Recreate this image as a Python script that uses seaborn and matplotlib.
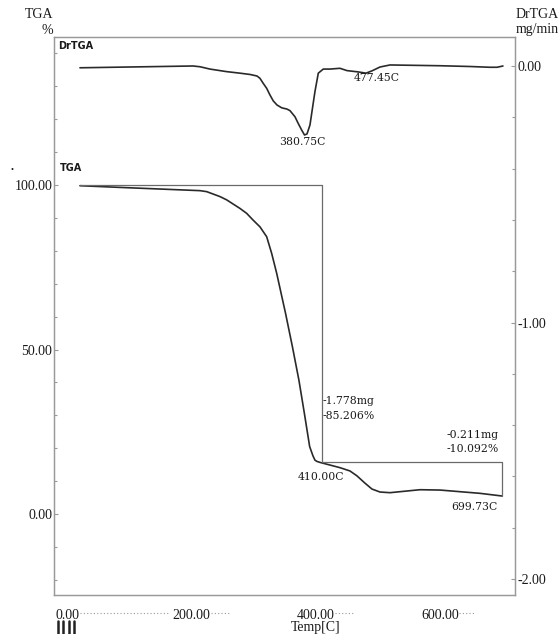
import matplotlib
matplotlib.use("Agg")
import matplotlib.pyplot as plt
from matplotlib.lines import Line2D
from matplotlib.ticker import MultipleLocator, FixedLocator
import seaborn as sns

# ---------------- data ----------------
tga_temp = [20.6, 96.2, 213.7, 224.5, 245.9, 256.7, 278.1, 288.9, 299.0, 310.3,
            321.1, 329.2, 337.2, 351.5, 362.5, 373.0, 381.8, 390.3, 395.6,
            398.8, 402.0, 406.9, 423.0, 439.1, 455.2, 466.5, 479.3, 490.6, 503.5,
            519.6, 535.7, 567.9, 600.1, 632.3, 664.5, 699.4]
tga_pct = [99.8, 99.2, 98.3, 98.0, 96.5, 95.5, 92.9, 91.4, 89.4, 87.3,
           84.3, 79.2, 73.2, 61.0, 50.9, 40.7, 30.6, 20.5, 17.7,
           16.4, 16.0, 15.7, 14.9, 14.1, 13.1, 11.6, 9.4, 7.6, 6.7,
           6.5, 6.8, 7.4, 7.3, 6.8, 6.3, 5.5]

dtg_temp = [20.6, 202.6, 213.9, 229.8, 256.7, 278.1, 294.2, 305.5, 310.3, 315.1,
            321.1, 326.4, 331.7, 337.7, 345.3, 353.8, 358.6, 366.7, 371.5, 377.5,
            382.0, 386.0, 390.8, 395.6, 398.8, 404.2, 412.2, 423.0, 439.1, 450.4,
            468.1, 481.0, 490.6, 503.5, 519.6, 600.1, 648.4, 680.5, 691.8, 701.4]
dtg_val = [-0.007, 0.000, -0.003, -0.012, -0.022, -0.028, -0.033, -0.039, -0.048, -0.066,
           -0.087, -0.113, -0.136, -0.152, -0.163, -0.168, -0.174, -0.198, -0.222, -0.250,
           -0.269, -0.265, -0.230, -0.152, -0.100, -0.028, -0.012, -0.012, -0.009, -0.018,
           -0.023, -0.028, -0.019, -0.004, 0.004, 0.001, -0.002, -0.005, -0.005, 0.000]

# step analysis (TGA)
step_start, step_mid, step_end = 20.6, 410.0, 699.73
step_top, step_mid_level, step_end_level = 100.0, 15.7, 5.5

x_ticks = [0, 200, 400, 600]
x_tick_labels = ["0.00", "200.00", "400.00", "600.00"]
left_ticks = [0, 50, 100]
left_tick_labels = ["0.00", "50.00", "100.00"]
right_ticks = [0.0, -1.0, -2.0]
right_tick_labels = ["0.00", "-1.00", "-2.00"]

# ---------------- style ----------------
sns.set_style("white")
plt.rcParams['font.family'] = ['Liberation Serif', 'DejaVu Serif']

W, H = 558, 634
fig = plt.figure(figsize=(W / 100, H / 100), dpi=100)

def fx(x):
    return x / W

def fy(y):
    return 1 - y / H

ax = fig.add_axes([fx(53.5), fy(595), fx(514.5) - fx(53.5), fy(37) - fy(595)])
ax2 = ax.twinx()

curve_col = "#2a2a2a"
box_col = "#6a6a6a"
spine_col = "#9a9a9a"
text_col = "#1a1a1a"

sns.lineplot(x=tga_temp, y=tga_pct, ax=ax, color=curve_col, linewidth=1.2,
             sort=False, estimator=None)
sns.lineplot(x=dtg_temp, y=dtg_val, ax=ax2, color=curve_col, linewidth=1.2,
             sort=False, estimator=None)

# step box lines
ax.plot([step_start, step_mid, step_mid], [step_top, step_top, step_mid_level],
        color=box_col, linewidth=0.9)
ax.plot([step_mid, step_end, step_end], [step_mid_level, step_mid_level, step_end_level],
        color=box_col, linewidth=0.9)

ax.set_xlim(-22, 720)
ax.set_ylim(-24.6, 145.0)
ax2.set_ylim(-2.062, 0.113)

for a in (ax, ax2):
    for s in a.spines.values():
        s.set_color(spine_col)
        s.set_linewidth(0.9)
        s.set_visible(True)

ax.xaxis.set_major_locator(FixedLocator(x_ticks))
ax.set_xticklabels(x_tick_labels)
ax.xaxis.set_minor_locator(MultipleLocator(50))
ax.yaxis.set_major_locator(FixedLocator(left_ticks))
ax.set_yticklabels(left_tick_labels)
ax.yaxis.set_minor_locator(MultipleLocator(10))
ax2.yaxis.set_major_locator(FixedLocator(right_ticks))
ax2.set_yticklabels(right_tick_labels)
ax2.yaxis.set_minor_locator(MultipleLocator(0.2))

ax.tick_params(axis='x', which='major', direction='in', length=5, width=0.8,
               color=spine_col, pad=10, labelsize=10, labelcolor=text_col)
ax.tick_params(axis='x', which='minor', direction='in', length=3, width=0.8,
               color=spine_col)
ax.tick_params(axis='y', which='major', direction='in', length=3, width=0.8,
               color=spine_col, pad=1, labelsize=10, labelcolor=text_col)
ax.tick_params(axis='y', which='minor', direction='in', length=2, width=0.8,
               color=spine_col)
ax2.tick_params(axis='y', which='major', direction='in', length=3, width=0.8,
                color=spine_col, pad=2, labelsize=10, labelcolor=text_col)
ax2.tick_params(axis='y', which='minor', direction='in', length=2, width=0.8,
                color=spine_col)
ax.set_xlabel("")
ax.set_ylabel("")
ax2.set_ylabel("")

# axis titles
fig.text(fx(316), fy(627), "Temp[C]", ha='center', va='center', fontsize=10, color=text_col)
fig.text(fx(53), fy(15), "TGA", ha='right', va='center', fontsize=10, color=text_col)
fig.text(fx(53), fy(30), "%", ha='right', va='center', fontsize=10, color=text_col)
fig.text(fx(516), fy(14), "DrTGA", ha='left', va='center', fontsize=10, color=text_col)
fig.text(fx(516), fy(29), "mg/min", ha='left', va='center', fontsize=10, color=text_col)

# inner labels
lab_kw = dict(fontsize=7, color=text_col, family='DejaVu Sans', fontweight='bold')
ax.text(-14.5, 142.3, "DrTGA", ha='left', va='center', **lab_kw)
ax.text(-11.3, 105.2, "TGA", ha='left', va='center', **lab_kw)

ann_kw = dict(fontsize=7.8, color=text_col, family='DejaVu Serif')
ax2.text(378.4, -0.296, "380.75C", ha='center', va='center', **ann_kw)
ax2.text(497.6, -0.047, "477.45C", ha='center', va='center', **ann_kw)
ax.text(410.6, 34.4, "-1.778mg", ha='left', va='center', **ann_kw)
ax.text(410.6, 29.8, "-85.206%", ha='left', va='center', **ann_kw)
ax.text(694, 24.0, "-0.211mg", ha='right', va='center', **ann_kw)
ax.text(694, 19.8, "-10.092%", ha='right', va='center', **ann_kw)
ax.text(409, 11.3, "410.00C", ha='center', va='center', **ann_kw)
ax.text(655, 2.2, "699.73C", ha='center', va='center', **ann_kw)

# scan artefacts: dotted traces along the label row and bars under 0.00
for x0, x1 in [(80, 170), (211, 229), (335, 353), (459, 475)]:
    fig.add_artist(Line2D([fx(x0), fx(x1)], [fy(613), fy(613)], color="#999999",
                          linewidth=0.8, linestyle=(0, (1, 2))))
for xb in [57.5, 63, 68.5, 74]:
    fig.add_artist(Line2D([fx(xb), fx(xb)], [fy(621), fy(634)], color="#222222",
                          linewidth=1.8))
fig.text(fx(12), fy(170), "•", ha='center', va='center', fontsize=6, color=text_col)

fig.savefig("out.png", dpi=100)
